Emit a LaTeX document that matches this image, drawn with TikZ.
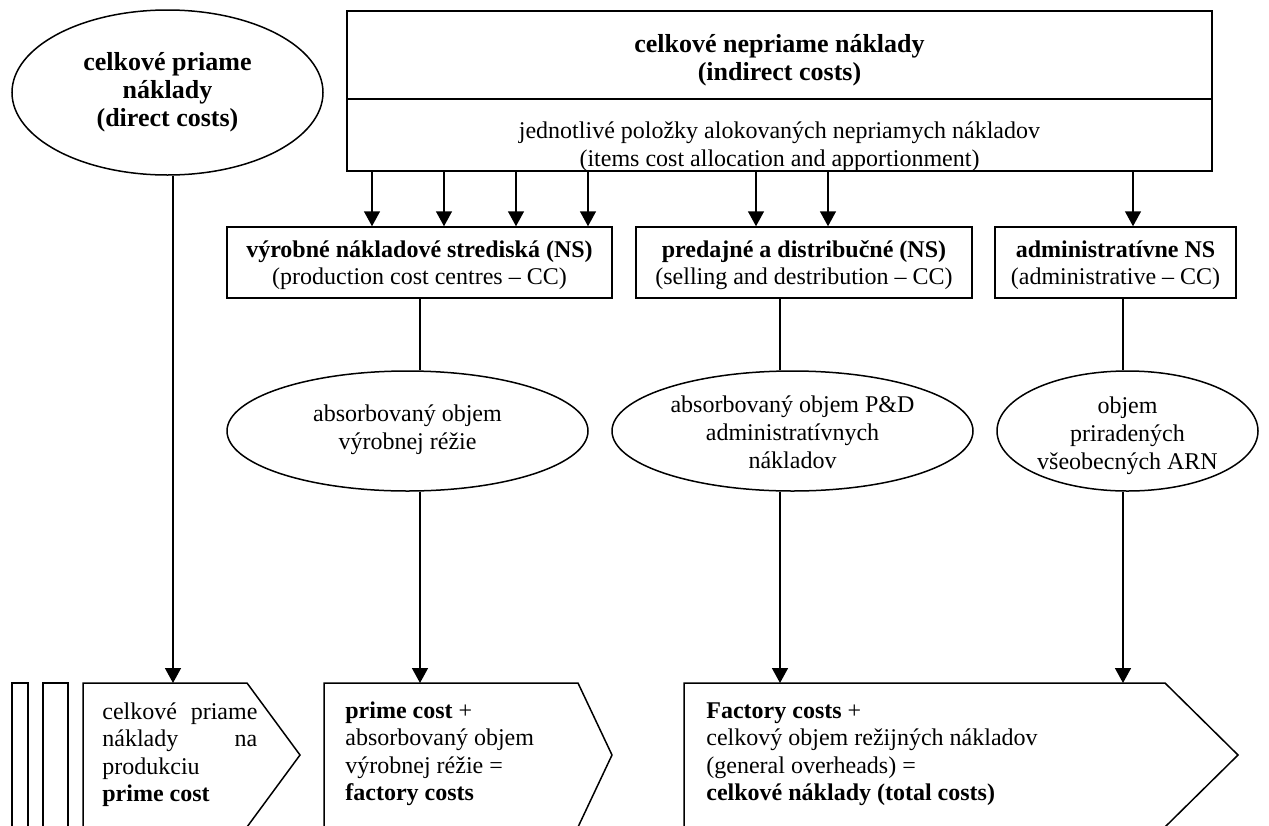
\documentclass[tikz,border=0pt]{standalone}
\usepackage{fontspec}
\setmainfont{Liberation Serif}
\usetikzlibrary{arrows.meta,shapes.geometric}
\newcommand{\ctext}[1]{\makebox[0pt]{\begin{tabular}{@{}c@{}}#1\end{tabular}}}
\newcommand{\ztext}[2]{\raisebox{#1}[0pt][0pt]{\makebox[0pt]{\begin{tabular}{@{}c@{}}#2\end{tabular}}}}
\begin{document}
\begin{tikzpicture}[x=0.5pt,y=-0.5pt,
  every node/.style={font=\fontsize{12}{13.8}\selectfont},
  bigfont/.style={font=\fontsize{13}{14}\selectfont},
  line/.style={line width=0.75pt},
  arr/.style={line width=0.75pt,-{Triangle[length=7.5pt,width=8pt]}},
  boxnode/.style={draw,line width=0.75pt,rectangle,inner sep=0pt,align=center},
  ell/.style={draw,line width=0.75pt,ellipse,inner sep=0pt},
  shp/.style={draw,line width=0.75pt}]
\useasboundingbox (0,0) rectangle (1269,825);
\clip (0,0) rectangle (1269,825);

% left ellipse
\node[ell, bigfont, minimum width=155.5pt, minimum height=82.5pt] (ldirect) at (167.5,92.5)
  {\ctext{\textbf{celkové priame}\\\textbf{náklady}\\\textbf{(direct costs)}}};

% top box
\node[boxnode, bigfont, minimum width=432.5pt, minimum height=44pt] (head) at (779.5,55)
  {\ztext{-5.75pt}{\textbf{celkové nepriame náklady}\\\textbf{(indirect costs)}}};
\node[boxnode, minimum width=432.5pt, minimum height=36pt] (items) at (779.5,135) {};
\node (itemstext) at (779.5,147)
  {\ctext{jednotlivé položky alokovaných nepriamych nákladov\\(items cost allocation and apportionment)}};

% cost centre boxes
\node[boxnode, minimum width=192.5pt, minimum height=35.5pt] (b1) at (419.5,262.5)
  {\ztext{-4.5pt}{\textbf{výrobné nákladové strediská (NS)}\\(production cost centres – CC)}};
\node[boxnode, minimum width=168pt, minimum height=35.5pt] (b2) at (804,262.5)
  {\ztext{-4.5pt}{\textbf{predajné a distribučné (NS)}\\(selling and destribution – CC)}};
\node[boxnode, minimum width=120.5pt, minimum height=35.5pt] (b3) at (1115.5,262.5)
  {\ztext{-4.5pt}{\textbf{administratívne NS}\\(administrative – CC)}};

% ellipses
\node[ell, minimum width=180.5pt, minimum height=60pt] (e1) at (407.5,431)
  {\ztext{-2.5pt}{absorbovaný objem\\výrobnej réžie}};
\node[ell, minimum width=180.5pt, minimum height=60pt] (e2) at (792.5,431)
  {\ztext{-5pt}{absorbovaný objem P\&D\\administratívnych\\nákladov}};
\node[ell, minimum width=130.5pt, minimum height=60pt] (e3) at (1127.5,431)
  {\ztext{-5.5pt}{objem\\priradených\\všeobecných ARN}};

% arrow x positions
\coordinate (a1) at (372,0);
\coordinate (a2) at (444,0);
\coordinate (a3) at (516,0);
\coordinate (a4) at (588,0);
\coordinate (a5) at (756,0);
\coordinate (a6) at (828,0);
\coordinate (a7) at (1133,0);
\foreach \a in {a1,a2,a3,a4}{\draw[arr] (items.south -| \a) -- (b1.north -| \a);}
\foreach \a in {a5,a6}{\draw[arr] (items.south -| \a) -- (b2.north -| \a);}
\draw[arr] (items.south -| a7) -- (b3.north -| a7);

% chevron tops
\coordinate (p1) at (173,683);
\coordinate (p2) at (420,683);
\coordinate (p3) at (780,683);
\coordinate (p4) at (1123,683);

\draw[arr] (ldirect.south -| p1) -- (p1);
\draw[line] (b1.south -| p2) -- (e1.north -| p2);
\draw[arr] (e1.south -| p2) -- (p2);
\draw[line] (b2.south -| p3) -- (e2.north -| p3);
\draw[arr] (e2.south -| p3) -- (p3);
\draw[line] (b3.south -| p4) -- (e3.north -| p4);
\draw[arr] (e3.south -| p4) -- (p4);

% left bars
\draw[shp] (12,840) -- (12,683) -- (28,683) -- (28,840);
\draw[shp] (43,840) -- (43,683) -- (68,683) -- (68,840);

% chevrons
\draw[shp] (83,840) -- (83,683) -- (247,683) -- (300,755) -- (237.4,840);
\draw[shp] (324,840) -- (324,683) -- (578,683) -- (612,755) -- (571.9,840);
\draw[shp] (684,840) -- (684,683) -- (1165,683) -- (1238,755) -- (1151.8,840);

% chevron texts
\node[anchor=base west, inner sep=0pt] (t1) at (102,719)
  {\parbox[t]{77.5pt}{\makebox[77.5pt][s]{celkové priame}\\
   \makebox[77.5pt][s]{náklady na}\\ produkciu\\ \textbf{prime cost}}};
\node[anchor=base west, inner sep=0pt] (t2) at (345,718)
  {\parbox[t]{120pt}{\raggedright \textbf{prime cost} +\\ absorbovaný objem\\
   výrobnej réžie =\\ \textbf{factory costs}}};
\node[anchor=base west, inner sep=0pt] (t3) at (706,718)
  {\parbox[t]{230pt}{\raggedright \textbf{Factory costs} +\\
   celkový objem režijných nákladov\\ (general overheads) =\\
   \textbf{celkové náklady (total costs)}}};
\end{tikzpicture}
\end{document}
